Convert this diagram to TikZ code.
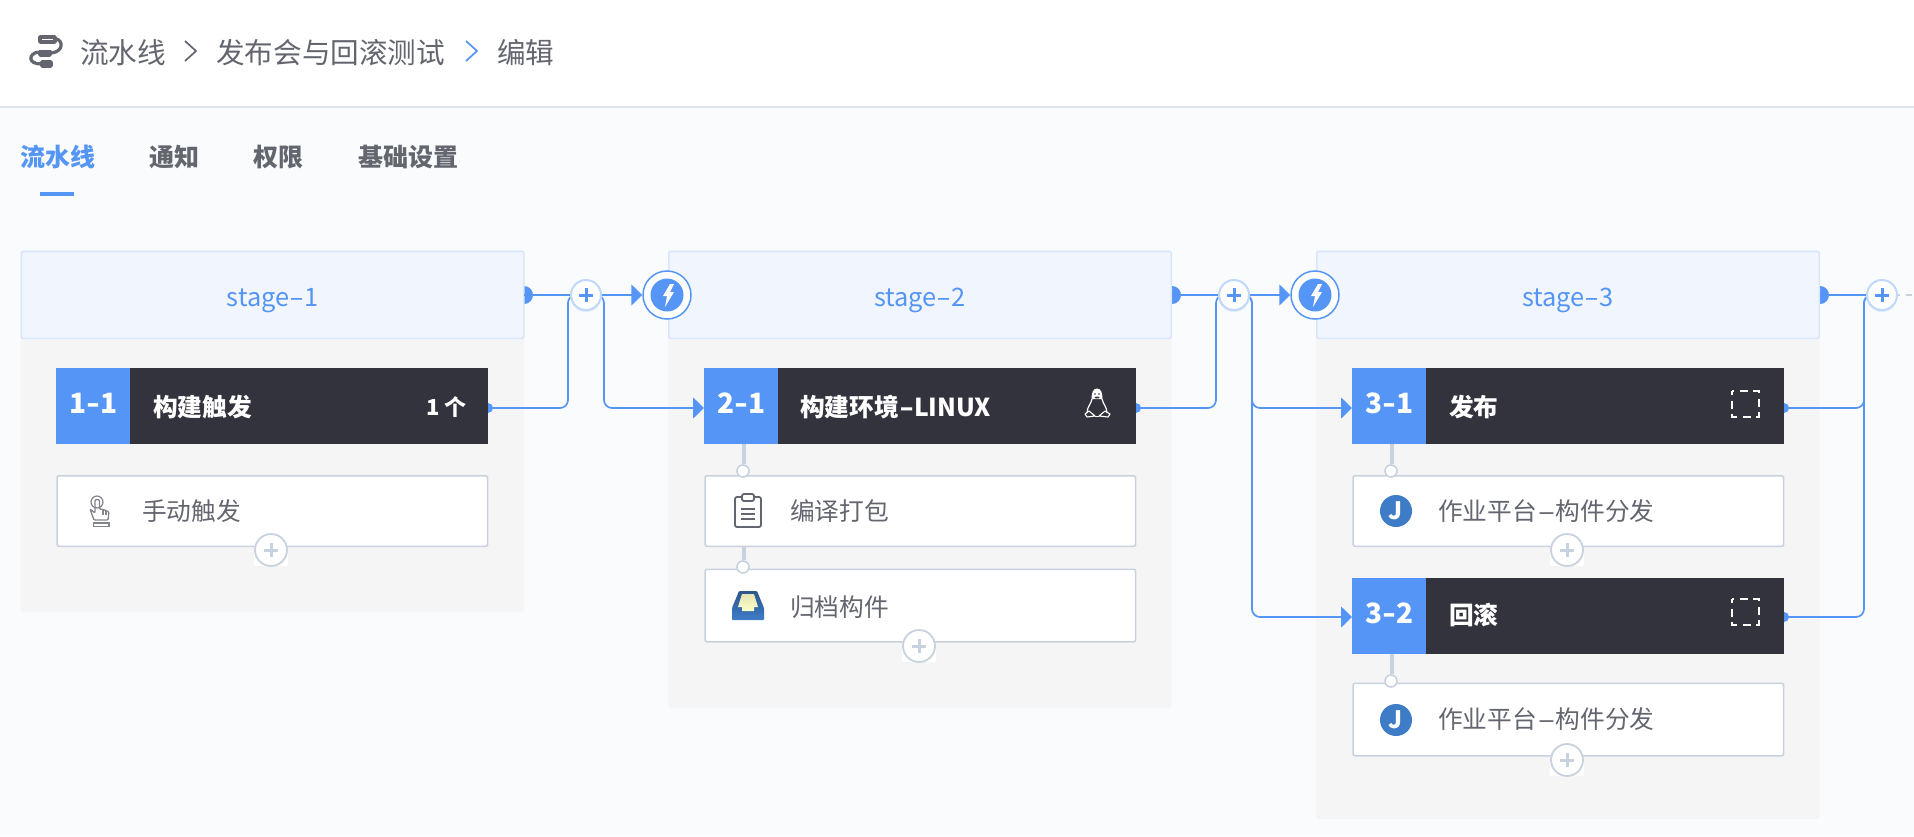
\documentclass[tikz,border=0pt]{standalone}
\usepackage{fontspec}
\setmainfont{Noto Sans CJK SC}
\usetikzlibrary{arrows.meta,shadows}

\definecolor{pagebg}{HTML}{FAFBFD}
\definecolor{rulegrey}{HTML}{DFE3EA}
\definecolor{inkgrey}{HTML}{63666F}
\definecolor{flowblue}{HTML}{5595F6}
\definecolor{stagefill}{HTML}{F0F5FE}
\definecolor{stageline}{HTML}{D8E7FD}
\definecolor{plusring}{HTML}{BFD8FB}
\definecolor{panelgrey}{HTML}{F5F5F5}
\definecolor{barblack}{HTML}{33333D}
\definecolor{cardline}{HTML}{C8D2DE}
\definecolor{jobblue}{HTML}{3F7CC8}

% the long dash of the reference font
\newcommand{\hy}[1][1.7]{\scalebox{#1}[1]{-}}

\tikzset{
	crumb/.style={anchor=west,inner sep=0,text=inkgrey,font=\fontsize{28.6}{34}\selectfont},
	tabitem/.style={anchor=west,inner sep=0,text=inkgrey,font=\fontsize{25}{30}\selectfont\bfseries},
	panel/.style={anchor=north west,fill=panelgrey,rounded corners=3,minimum width=503.5,inner sep=0},
	stagebox/.style={anchor=north west,fill=stagefill,draw=stageline,line width=1.6,rounded corners=2,
		minimum width=502.5,minimum height=87,inner sep=0,text=flowblue,text height=30,text depth=6,
		font=\fontsize{25.4}{30}\selectfont},
	bar/.style={anchor=north west,fill=barblack,minimum height=76,inner sep=0},
	barno/.style={anchor=north west,fill=flowblue,minimum width=74,minimum height=76,inner sep=0,text=white,
		text height=20,text depth=6,font=\fontsize{28}{34}\selectfont\bfseries},
	bartext/.style={anchor=west,inner sep=0,text=white,font=\fontsize{24.7}{30}\selectfont\bfseries},
	card/.style={anchor=north west,fill=white,draw=cardline,line width=1.6,rounded corners=2,minimum height=70.5,inner sep=0},
	cardtext/.style={anchor=west,inner sep=0,text=inkgrey,font=\fontsize{24.7}{30}\selectfont},
	outdot/.style={circle,fill=flowblue,inner sep=0,minimum size=#1},
	flow/.style={flowblue,line width=1.7,rounded corners=8},
	flowin/.style={flow,-{Triangle[width=21,length=11]}},
	bolt/.style={circle,fill=white,draw=flowblue,line width=1.5,minimum size=48,inner sep=0},
	plusnode/.style={circle,fill=white,draw=plusring,line width=2,minimum size=30,inner sep=0,
		drop shadow={shadow xshift=0pt,shadow yshift=-2pt,fill=flowblue,opacity=.15},
		path picture={\draw[flowblue,line width=3] (path picture bounding box.center)+(-7,0) -- +(7,0)
			(path picture bounding box.center)+(0,-7) -- +(0,7);}},
	addnode/.style={circle,fill=white,draw=cardline,line width=1.8,minimum size=32,inner sep=0,
		path picture={\draw[cardline,line width=3] (path picture bounding box.center)+(-7,0) -- +(7,0)
			(path picture bounding box.center)+(0,-7) -- +(0,7);}},
	linkdot/.style={circle,fill=white,draw=cardline,line width=1.6,minimum size=12,inner sep=0},
	link/.style={cardline,line width=3.6},
	jobicon/.style={circle,fill=jobblue,minimum size=32,inner sep=0,text=white,font=\fontsize{24}{28}\selectfont\bfseries},
	doticon/.style={white,line width=1.6,dash pattern=on 8 off 5.5 on 8 off 5.5,dash phase=4},
	chainpill/.style={inkgrey,line width=3.6,line join=round}
}

\begin{document}
\begin{tikzpicture}[x=1pt,y=-1pt]
		\useasboundingbox (0,0) rectangle (1914,836);

		% page and top bar
		\fill [pagebg] (0,0) rectangle (1914,836);
		\fill [white] (0,0) rectangle (1914,106);
		\fill [rulegrey] (0,106) rectangle (1914,108);

		% chain icon
		\draw [chainpill] (40,37) rectangle (55,42);
		\draw [chainpill] (40,51.5) rectangle (50,55);
		\draw [chainpill] (42,62) rectangle (51,66);
		\draw [inkgrey,line width=3.2] (56,39) .. controls (63,40) and (64,51) .. (52,53);
		\draw [inkgrey,line width=3.2] (38,52) .. controls (28,54) and (28,64) .. (41,64);

		\node [crumb] (crumb1) at (80,53) {流水线};
		\draw [inkgrey,line width=1.7] (185,41) -- (196,51) -- (185,61);
		\node [crumb] (crumb2) at (216,53) {发布会与回滚测试};
		\draw [flowblue,line width=1.7] (466,41) -- (477,51) -- (466,61);
		\node [crumb] (crumb3) at (497,53) {编辑};

		% tabs
		\node [tabitem,text=flowblue] (tab1) at (20,157) {流水线};
		\node [tabitem] (tab2) at (149,157) {通知};
		\node [tabitem] (tab3) at (253,157) {权限};
		\node [tabitem] (tab4) at (358,157) {基础设置};
		\fill [flowblue] (40,192) rectangle (74,196);

		% stage panels
		\node [panel,minimum height=362] (panel1) at (20.5,250) {};
		\node [panel,minimum height=458] (panel2) at (668,250) {};
		\node [panel,minimum height=569] (panel3) at (1316,250) {};

		% output dots sit under the boxes
		\node [outdot=18] (out1) at (524,295) {};
		\node [outdot=18] (out2) at (1172,295) {};
		\node [outdot=18] (out3) at (1820,295) {};
		\node [outdot=10] (out11) at (488,408) {};
		\node [outdot=10] (out21) at (1136,408) {};
		\node [outdot=10] (out31) at (1784,408) {};
		\node [outdot=10] (out32) at (1784,617) {};

		\node [stagebox] (stage1) at (20.5,250.6) {stage\hy{}1};
		\node [stagebox] (stage2) at (668,250.6) {stage\hy{}2};
		\node [stagebox] (stage3) at (1316,250.6) {stage\hy{}3};

		% task bars
		\node [bar,minimum width=432] (bar11) at (56,368) {};
		\node [barno] (no11) at (56,368) {1\hy[1.3]{}1};
		\node [bartext] (title11) at (153,407) {构建触发};
		\node [bartext,anchor=east,font=\fontsize{22}{26}\selectfont\bfseries] (count11) at (467,407) {1 个};

		\node [bar,minimum width=432] (bar21) at (704,368) {};
		\node [barno] (no21) at (704,368) {2\hy[1.3]{}1};
		\node [bartext] (title21) at (800,407) {构建环境\hy[1.6]{}LINUX};

		\node [bar,minimum width=432] (bar31) at (1352,368) {};
		\node [barno] (no31) at (1352,368) {3\hy[1.3]{}1};
		\node [bartext] (title31) at (1449,407) {发布};

		\node [bar,minimum width=432] (bar32) at (1352,578) {};
		\node [barno] (no32) at (1352,578) {3\hy[1.3]{}2};
		\node [bartext] (title32) at (1449,615) {回滚};

		% cards
		\node [card,minimum width=430.5] (card11) at (56.3,475) {};
		\node [cardtext] (text11) at (142,511) {手动触发};
		\node [card,minimum width=430.5] (card21) at (704.3,475) {};
		\node [cardtext] (text21) at (790,511) {编译打包};
		\node [card,minimum width=430.5,minimum height=72.5] (card22) at (704.3,568.5) {};
		\node [cardtext] (text22) at (790,607) {归档构件};
		\node [card,minimum width=430.5] (card31) at (1352.3,475) {};
		\node [cardtext] (text31) at (1438,511) {作业平台\hy[2.2]{}构件分发};
		\node [card,minimum width=430.5,minimum height=72.5] (card32) at (1352.3,682.5) {};
		\node [cardtext] (text32) at (1438,719) {作业平台\hy[2.2]{}构件分发};

		% links from bar to card
		\node [linkdot] (dot21) at (743,471) {};
		\node [linkdot] (dot22) at (743,567) {};
		\node [linkdot] (dot31) at (1391,471) {};
		\node [linkdot] (dot32) at (1391,681) {};
		\draw [link] (744,444) -- (dot21.north -| 744,0);
		\draw [link] (744,547) -- (dot22.north -| 744,0);
		\draw [link] (1392,444) -- (dot31.north -| 1392,0);
		\draw [link] (1392,654) -- (dot32.north -| 1392,0);

		% add buttons
		\foreach \addx/\addy/\addname in {271/550/add11,919/646/add22,1567/550/add31,1567/760/add32}{
			\fill [white] (\addx-17,\addy) rectangle (\addx+17,\addy+16);
			\node [addnode] (\addname) at (\addx,\addy) {};
		}

		% bolts
		\node [bolt] (bolt2) at (667,295) {};
		\node [bolt] (bolt3) at (1315,295) {};
		\foreach \boltname in {bolt2,bolt3}{
			\fill [flowblue] (\boltname.center) circle (16.5);
			\fill [white,shift={(\boltname.center)}] (3,-11) -- (-4,1) -- (0,1) -- (-2,12) -- (7,-3) -- (3,-3) -- (7,-11) -- cycle;
		}

		% hubs and flow
		\coordinate (hub1) at (586,295);
		\coordinate (hub2) at (1234,295);
		\coordinate (hub3) at (1882,295);
		\coordinate (in21) at (704,408);
		\coordinate (in31) at (1352,408);
		\coordinate (in32) at (1352,617);
		\coordinate (tail3) at (1914,295);

		\draw [flow] (out1.center) -- (hub1);
		\draw [flowin] (hub1) -- (bolt2.west);
		\draw [flow] (out11.center) -- ++(80,0) |- (hub1);
		\draw [flowin] (hub1) -- ++(18,0) |- (in21);

		\draw [flow] (out2.center) -- (hub2);
		\draw [flowin] (hub2) -- (bolt3.west);
		\draw [flow] (out21.center) -- ++(80,0) |- (hub2);
		\draw [flowin] (hub2) -- ++(18,0) |- (in31);
		\draw [flowin] (hub2) -- ++(18,0) |- (in32);

		\draw [flow] (out3.center) -- (hub3);
		\draw [flow] (out31.center) -- ++(80,0) |- (hub3);
		\draw [flow] (out32.center) -- ++(80,0) |- (hub3);
		\draw [cardline,line width=1.7,dash pattern=on 6 off 6] (hub3) -- (tail3);

		\node [plusnode] (plus1) at (hub1) {};
		\node [plusnode] (plus2) at (hub2) {};
		\node [plusnode] (plus3) at (hub3) {};

		% small icons
		\draw [doticon] (1732,391) rectangle (1759,417);
		\draw [doticon] (1732,599) rectangle (1759,625);

		% hand
		\draw [inkgrey!80,line width=1.2] (97,502) circle (6);
		\draw [inkgrey!80,line width=1.3,rounded corners=1] (94,520) -- (90,509) -- (95,513) -- (95,502)
			.. controls (95,499) and (99.5,499) .. (99.5,502) -- (99.5,509) -- (105,510) -- (109,512) -- (108,520) -- cycle;
		\draw [inkgrey!80,line width=1.1] (103,510) -- (103,515) (106,511) -- (106,515);
		\draw [inkgrey!80,line width=1.6] (93.5,523) rectangle (109,526.5);

		% clipboard
		\draw [inkgrey,line width=1.8,rounded corners=2] (735,497) rectangle (761,527);
		\draw [inkgrey,line width=1.8,rounded corners=2,fill=white] (742,494) rectangle (754,501);
		\foreach \liney in {509,514,519}{
			\draw [inkgrey,line width=1.8] (741,\liney) -- (755,\liney);
		}

		% inbox
		\shade [top color=jobblue!70!black,bottom color=jobblue,rounded corners=1] (739,591) -- (757,591) -- (764,608) -- (764,620) -- (732,620) -- (732,608) -- cycle;
		\shade [top color=black!35!yellow!30!white,bottom color=yellow!22!white] (742,594) -- (754,594) -- (758,607) -- (754,607) -- (754,611) -- (742,611) -- (742,607) -- (738,607) -- cycle;

		% job icons
		\node [jobicon] (job1) at (1396,511) {J};
		\node [jobicon] (job2) at (1396,720) {J};

		% penguin
		\fill [white] (1097,388.5) .. controls (1093,388.5) and (1091.5,393) .. (1091.5,399)
			-- (1102.5,399) .. controls (1102.5,393) and (1101,388.5) .. (1097,388.5) -- cycle;
		\fill [barblack] (1095,394) circle (.9) (1099,394) circle (.9) (1097,397.5) ellipse (2.5 and 1);
		\draw [white,line width=1.2] (1092,399) .. controls (1091,404) and (1087,407) .. (1087,413);
		\draw [white,line width=1.2] (1102,399) .. controls (1103,404) and (1107,407) .. (1107,413);
		\draw [white,line width=1.1,line join=round] (1085,414) -- (1089,411) -- (1095,416) -- (1087,417) -- cycle;
		\draw [white,line width=1.1,line join=round] (1110,414) -- (1105,411) -- (1099,416) -- (1108,417) -- cycle;
		\draw [white,line width=.9] (1095,416) -- (1099,416);
\end{tikzpicture}
\end{document}
